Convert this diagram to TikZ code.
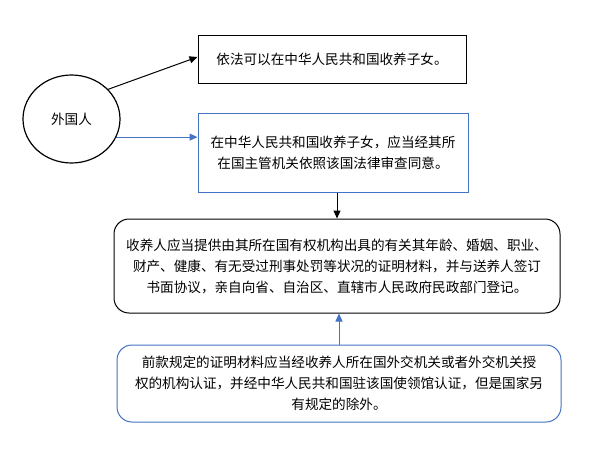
\documentclass[tikz,border=0pt]{standalone}
\usepackage{fontspec}
\setmainfont{Noto Sans CJK SC}
\usetikzlibrary{shapes.geometric,arrows.meta}
\definecolor{myblue}{HTML}{4472C4}
\tikzset{
  txt/.style={font=\fontsize{13.6pt}{21pt}\selectfont, align=center, inner sep=0pt},
  blackbox/.style={txt, draw=black, line width=1pt},
  bluebox/.style={txt, draw=myblue, line width=1pt},
  arr/.style={line width=1pt, -{Triangle[length=8pt,width=7pt]}},
}
\begin{document}
\begin{tikzpicture}[x=1pt,y=-1pt]
\useasboundingbox (0,0) rectangle (597,460);
\node[txt, ellipse, draw=black, line width=1.2pt, minimum width=97pt, minimum height=88pt] (circ) at (71.5,119) {外国人};
\node[blackbox, minimum width=268pt, minimum height=47pt] (box1) at (332,59.5) {依法可以在中华人民共和国收养子女。};
\node[bluebox, minimum width=270pt, minimum height=79pt] (box2) at (333,152.5) {在中华人民共和国收养子女，应当经其所\\在国主管机关依照该国法律审查同意。};
\node[blackbox, rounded corners=15pt, minimum width=446pt, minimum height=94pt] (box3) at (337,266) {收养人应当提供由其所在国有权机构出具的有关其年龄、婚姻、职业、\\财产、健康、有无受过刑事处罚等状况的证明材料，并与送养人签订\\书面协议，亲自向省、自治区、直辖市人民政府民政部门登记。};
\node[bluebox, rounded corners=15pt, minimum width=444pt, minimum height=77pt] (box4) at (339,383.5) {前款规定的证明材料应当经收养人所在国外交机关或者外交机关授\\权的机构认证，并经中华人民共和国驻该国使领馆认证，但是国家另\\有规定的除外。};
\draw[arr, black] (circ.39) -- ([yshift=2.5pt]box1.west);
\draw[arr, myblue] (circ.-22) -- (circ.-22 -| box2.west);
\draw[arr, black] (box3.north |- box2.south) -- (box3.north);
\draw[arr, myblue] (box4.north) -- (box4.north |- box3.south);
\end{tikzpicture}
\end{document}
